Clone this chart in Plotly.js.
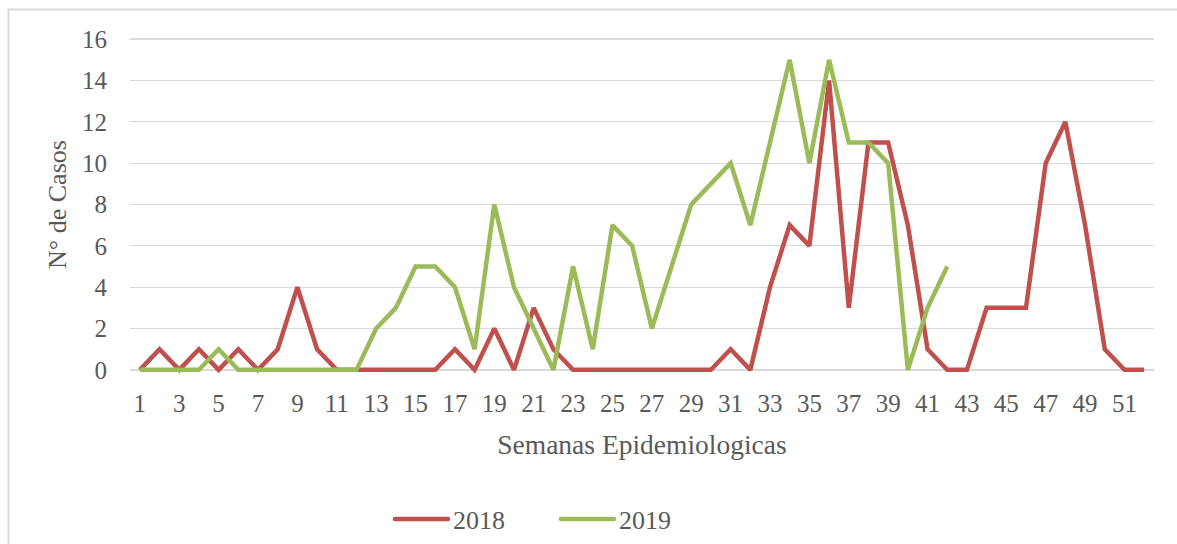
<!DOCTYPE html>
<html>
<head>
<meta charset="utf-8">
<script src="https://cdn.plot.ly/plotly-3.0.1.min.js"></script>
<style>
html,body{margin:0;padding:0;background:#fff;}
#chart{width:1177px;height:544px;}
</style>
</head>
<body>
<div id="chart"></div>
<script>
const weeks = Array.from({length: 52}, (_, i) => i + 1);
const cases2018 = [0,1,0,1,0,1,0,1,4,1,0,0,0,0,0,0,1,0,2,0,3,1,0,0,0,0,0,0,0,0,1,0,4,7,6,14,3,11,11,7,1,0,0,3,3,3,10,12,7,1,0,0];
const weeks2019 = Array.from({length: 42}, (_, i) => i + 1);
const cases2019 = [0,0,0,0,1,0,0,0,0,0,0,0,2,3,5,5,4,1,8,4,2,0,5,1,7,6,2,5,8,9,10,7,11,15,10,15,11,11,10,0,3,5];
const tickVals = [1,3,5,7,9,11,13,15,17,19,21,23,25,27,29,31,33,35,37,39,41,43,45,47,49,51];
const yTicks = [0,2,4,6,8,10,12,14,16];

const W = 1177, H = 544;
const mL = 130, mR = 23, mT = 35, mB = 170;
const pw = W - mL - mR, ph = H - mT - mB;
const px = v => (v - mL) / pw;
const py = v => (H - mB - v) / ph;

const fam = '"Liberation Serif", "DejaVu Serif", serif';
const font = {family: fam, size: 25, color: '#595959'};
const xTitleFont = {family: fam, size: 27.5, color: '#595959'};
const yTitleFont = {family: fam, size: 26, color: '#595959'};

const traces = [
  {x: weeks, y: cases2018, name: '2018', type: 'scatter', mode: 'lines',
   line: {color: '#C0504D', width: 4.5, shape: 'linear'}},
  {x: weeks2019, y: cases2019, name: '2019', type: 'scatter', mode: 'lines',
   line: {color: '#9BBB59', width: 4.5, shape: 'linear'}}
];

const layout = {
  width: W, height: H,
  margin: {l: mL, r: mR, t: mT, b: mB, pad: 0},
  paper_bgcolor: '#ffffff', plot_bgcolor: '#ffffff',
  font: font,
  showlegend: true,
  legend: {orientation: 'h', x: 390 / W, xref: 'container', xanchor: 'left', y: 25 / H, yref: 'container', yanchor: 'middle',
           font: {family: fam, size: 26, color: '#595959'}, entrywidth: 98, itemwidth: 53, traceorder: 'normal',
           bgcolor: 'rgba(0,0,0,0)'},
  xaxis: {
    range: [0.5, 52.5], tickmode: 'array', tickvals: tickVals, ticktext: tickVals.map(String),
    showgrid: false, zeroline: false, showline: false, ticks: '', ticklen: 0,
    tickfont: font, tickangle: 0, automargin: false, ticklabelstandoff: 12,
    title: {text: 'Semanas Epidemiologicas', font: xTitleFont, standoff: 18}
  },
  yaxis: {
    range: [-0.2, 16.2], tickmode: 'array', tickvals: yTicks, ticktext: yTicks.map(String),
    showgrid: true, gridcolor: '#d9d9d9', gridwidth: 1.3, zeroline: false, showline: false,
    ticks: '', tickfont: font, automargin: false, ticklabelstandoff: 22,
    title: {text: 'N° de Casos', font: yTitleFont, standoff: 7}
  },
  shapes: [
    {type: 'path', xref: 'paper', yref: 'paper',
     path: `M ${px(8.5)} ${py(H + 5)} L ${px(8.5)} ${py(9.5)} L ${px(W + 5)} ${py(9.5)}`,
     line: {color: '#d9d9d9', width: 2}}
  ]
};

function stretchLegendLines(gd) {
  gd.querySelectorAll('.legend .traces .legendlines path').forEach(p => {
    p.setAttribute('d', 'M5,0h53');
    p.style.strokeLinecap = 'round';
  });
}

const gdEl = document.getElementById('chart');
Plotly.newPlot(gdEl, traces, layout, {displayModeBar: false, staticPlot: true}).then(gd => {
  stretchLegendLines(gd);
  gd.on('plotly_afterplot', () => stretchLegendLines(gd));
  setTimeout(() => stretchLegendLines(gd), 50);
  setTimeout(() => stretchLegendLines(gd), 300);
});
</script>
</body>
</html>
